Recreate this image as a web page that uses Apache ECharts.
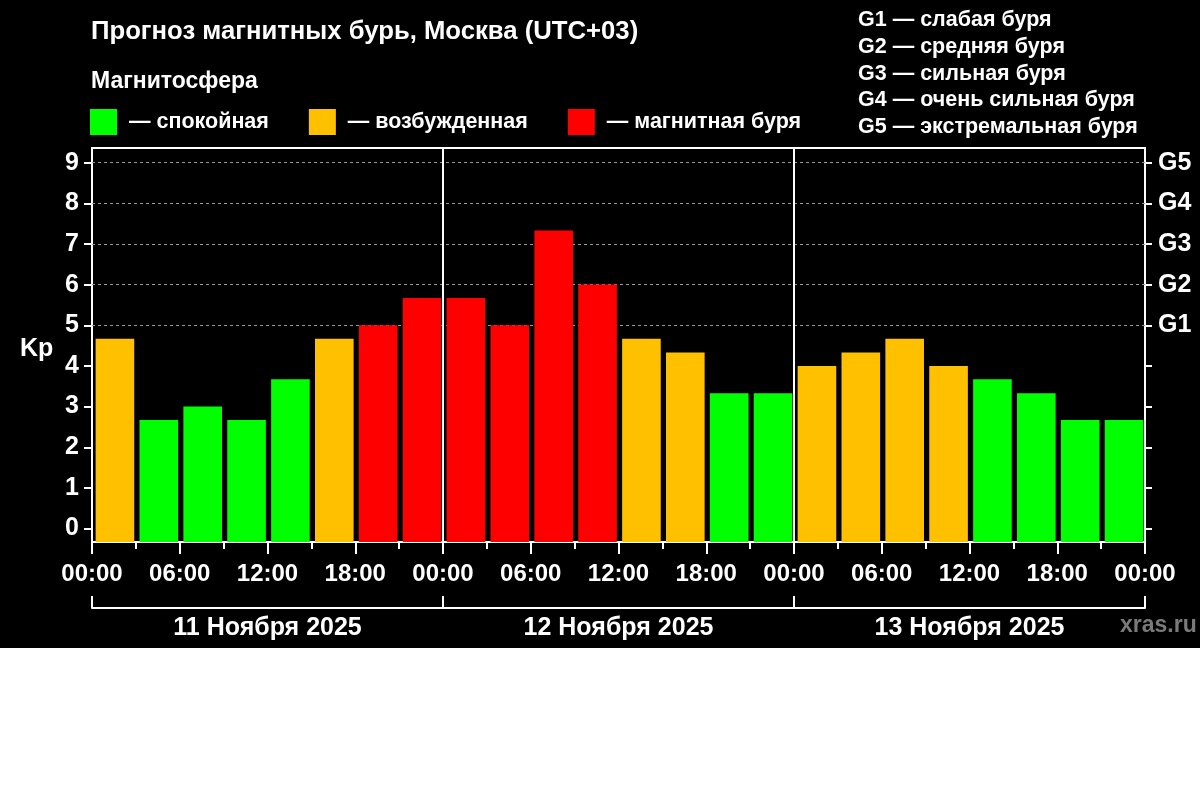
<!DOCTYPE html>
<html><head><meta charset="utf-8">
<script src="https://cdn.jsdelivr.net/npm/echarts@6/dist/echarts.min.js"></script>
<style>html,body{margin:0;padding:0;background:#fff;}#c{width:1200px;height:648px;background:#000;}</style>
</head><body><div id="c"></div>
<script>
// ---- data ----
const days = ['11 Ноября 2025', '12 Ноября 2025', '13 Ноября 2025'];
const slots = ['00:00', '03:00', '06:00', '09:00', '12:00', '15:00', '18:00', '21:00'];
const categories = days.flatMap(d => slots.map(s => d + ' ' + s));
const kpValues = [
  4.67, 2.67, 3.00, 2.67, 3.67, 4.67, 5.00, 5.67,
  5.67, 5.00, 7.33, 6.00, 4.67, 4.33, 3.33, 3.33,
  4.00, 4.33, 4.67, 4.00, 3.67, 3.33, 2.67, 2.67
];
const timeTickLabels = ['00:00','06:00','12:00','18:00','00:00','06:00','12:00','18:00','00:00','06:00','12:00','18:00','00:00'];
const kpTicks = [0, 1, 2, 3, 4, 5, 6, 7, 8, 9];
const stormLevels = [5, 6, 7, 8, 9];
const stormLabels = ['G1', 'G2', 'G3', 'G4', 'G5'];
const stormLegend = ['G1 — слабая буря', 'G2 — средняя буря', 'G3 — сильная буря', 'G4 — очень сильная буря', 'G5 — экстремальная буря'];
const stateNames = ['— спокойная', '— возбужденная', '— магнитная буря'];
const stateColors = ['#00ff00', '#ffc000', '#ff0000'];
const dayBoundaryHours = [24, 48];
const dayEdgeHours = [0, 24, 48, 72];
const dayCenterHours = [12, 36, 60];

// ---- chart ----
const FONT = "'Liberation Sans', Arial, sans-serif";
const white = '#ffffff';
const chart = echarts.init(document.getElementById('c'));
const txt = (size, color) => ({ color: color || white, fontSize: size, fontWeight: 'bold', fontFamily: FONT });

chart.setOption({
  backgroundColor: '#000',
  animation: false,
  title: [
    { text: 'Прогноз магнитных бурь, Москва (UTC+03)', left: 91, top: 19, padding: 0, textStyle: txt(25.7) },
    { text: 'Магнитосфера', left: 91, top: 70, padding: 0, textStyle: txt(23) },
    { text: stormLegend.join('\n'), left: 858, top: 7, padding: 0, textStyle: Object.assign(txt(21.5), { lineHeight: 26.7 }) },
    { text: 'Kp', left: 20, top: 337, padding: 0, textStyle: txt(25) },
    { text: 'xras.ru', left: 1120, top: 614, padding: 0, textStyle: txt(23, '#7a7a7a') }
  ],
  visualMap: {
    type: 'piecewise',
    seriesIndex: 0,
    dimension: 1,
    orient: 'horizontal',
    left: 90, top: 109,
    itemWidth: 27, itemHeight: 26,
    itemGap: 40, textGap: 12,
    itemSymbol: 'rect',
    padding: 0,
    selectedMode: false,
    textStyle: txt(21.5),
    pieces: [
      { lt: 4, color: stateColors[0], label: stateNames[0] },
      { gte: 4, lt: 5, color: stateColors[1], label: stateNames[1] },
      { gte: 5, color: stateColors[2], label: stateNames[2] }
    ]
  },
  grid: { left: 92, right: 55, top: 148, bottom: 106, show: true, borderColor: white, borderWidth: 2, backgroundColor: 'transparent' },
  xAxis: [
    { type: 'category', data: categories, show: false, boundaryGap: true },
    {
      type: 'value', position: 'bottom', min: 0, max: 72, interval: 6,
      axisLine: { show: true, onZero: false, lineStyle: { color: white, width: 2 } },
      axisTick: { show: true, length: 12, lineStyle: { color: white, width: 2 } },
      minorTick: { show: true, splitNumber: 2, length: 7, lineStyle: { color: white, width: 2 } },
      splitLine: { show: false }, minorSplitLine: { show: false },
      axisLabel: { margin: 20, formatter: v => timeTickLabels[Math.round(v / 6)], ...txt(24) }
    },
    {
      type: 'value', position: 'bottom', offset: 66, min: 0, max: 72,
      axisLine: { show: true, onZero: false, lineStyle: { color: white, width: 2 } },
      axisTick: { show: true, inside: true, length: 12, customValues: dayEdgeHours, lineStyle: { color: white, width: 2 } },
      splitLine: { show: false },
      axisLabel: { margin: 8, customValues: dayCenterHours, formatter: v => days[dayCenterHours.indexOf(v)] || '', ...txt(25) }
    }
  ],
  yAxis: [
    {
      type: 'value', position: 'left', min: -0.33, max: 9.36,
      axisLine: { show: true, onZero: false, lineStyle: { color: white, width: 2 } },
      axisTick: { show: true, length: 8, customValues: kpTicks, lineStyle: { color: white, width: 2 } },
      splitLine: { show: false },
      axisLabel: { margin: 13, customValues: kpTicks, ...txt(25) }
    },
    {
      type: 'value', position: 'right', min: -0.33, max: 9.36,
      axisLine: { show: true, onZero: false, lineStyle: { color: white, width: 2 } },
      axisTick: { show: true, length: 7, customValues: kpTicks, lineStyle: { color: white, width: 2 } },
      splitLine: { show: false },
      axisLabel: { margin: 13, customValues: stormLevels, formatter: v => stormLabels[stormLevels.indexOf(v)] || '', ...txt(25) }
    }
  ],
  series: [
    {
      type: 'custom', name: 'Kp', xAxisIndex: 0, yAxisIndex: 0, z: 3,
      encode: { x: 0, y: 1 },
      data: kpValues.map((v, i) => [i, v]),
      renderItem: function (params, api) {
        const top = api.coord([api.value(0), api.value(1)]);
        const band = api.size([1, 0])[0];
        const w = band * 0.88;
        const bottom = params.coordSys.y + params.coordSys.height;
        return {
          type: 'rect',
          shape: { x: top[0] - w / 2 + 1, y: top[1], width: w, height: bottom - top[1] },
          style: { fill: api.visual('color') }
        };
      }
    },
    {
      type: 'line', xAxisIndex: 1, yAxisIndex: 0, z: 1, data: [], silent: true,
      markLine: {
        silent: true, symbol: ['none', 'none'], z: 1, animation: false,
        label: { show: false },
        data: stormLevels.map(v => ({ yAxis: v, lineStyle: { color: '#9a9a9a', width: 1, type: [3, 3] } }))
          .concat(dayBoundaryHours.map(h => ({ xAxis: h, lineStyle: { color: white, width: 2, type: 'solid' } })))
      }
    }
  ]
});
</script></body></html>
